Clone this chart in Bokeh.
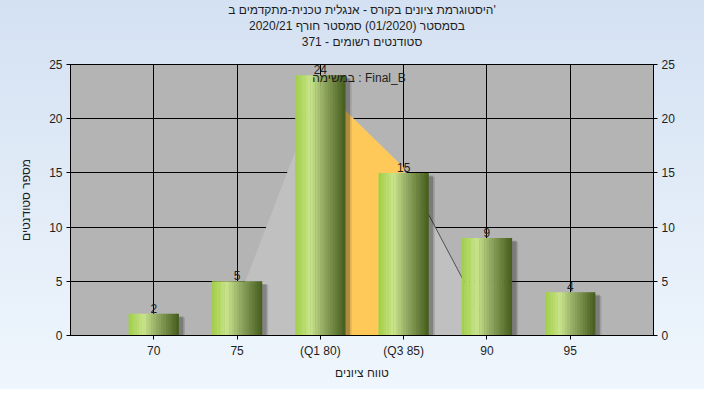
from bokeh.plotting import figure
from bokeh.models import LinearAxis, FixedTicker, Range1d, Label, ColumnDataSource, Title
from bokeh.core.properties import value
from bokeh.embed import file_html
from bokeh.resources import INLINE

# ---- data ----
grades = ["70", "75", "(Q1 80)", "(Q3 85)", "90", "95"]
counts = [2, 5, 24, 15, 9, 4]
# distribution area drawn behind the bars
area_grades = ["75", "(Q1 80)", "(Q3 85)", "90"]
area_values = [3, 23, 15.5, 1]
q_range = ["(Q1 80)", "(Q3 85)"]
y_ticks = [0, 5, 10, 15, 20, 25]

title_lines = [
    "היסטוגרמת ציונים בקורס - אנגלית טכנית-מתקדמים ב'",
    "בסמסטר  (01/2020)  סמסטר חורף  2020/21",
    "סטודנטים רשומים - 371",
]
task_label = "במשימה : Final_B"
x_title = "טווח ציונים"
y_title = "מספר סטודנטים"

FONT = "Liberation Sans"
TXT = "#1e1e1e"

pos = {g: i + 1 for i, g in enumerate(grades)}
xs = [pos[g] for g in grades]

p = figure(width=704, height=389, output_backend="svg", toolbar_location=None, title=None,
           x_range=Range1d(0, len(grades) + 1), y_range=Range1d(0, 25),
           min_border_left=70, min_border_right=51, min_border_top=64, min_border_bottom=54)
p.border_fill_alpha = 0
p.styles = {"background": "linear-gradient(to bottom, #d4e1f2, #eff6fd)"}
p.background_fill_color = "#b4b4b4"
p.outline_line_color = "black"

# title: spacer + three centred lines (added innermost first)
p.add_layout(Title(text=" ", text_font_size="12px", standoff=0), "above")
for line in reversed(title_lines):
    p.add_layout(Title(text=line, align="center", text_font=FONT, text_font_size="12px",
                       text_font_style="normal", text_color=TXT, text_line_height=0.95,
                       standoff=0, offset=-9), "above")

# axes
p.xaxis.ticker = FixedTicker(ticks=xs)
p.xaxis.major_label_overrides = {pos[g]: g for g in grades}
p.yaxis.ticker = FixedTicker(ticks=y_ticks)
right = LinearAxis(ticker=FixedTicker(ticks=y_ticks))
p.add_layout(right, "right")
for ax in [p.xaxis[0], p.yaxis[0], right]:
    ax.axis_line_color = "black"
    ax.major_tick_line_color = "black"
    ax.major_tick_out = 4
    ax.major_tick_in = 0
    ax.minor_tick_line_color = None
    ax.major_label_text_font = FONT
    ax.major_label_text_font_size = "12px"
    ax.major_label_text_color = TXT
    ax.major_label_standoff = 4
    ax.axis_label_text_font = FONT
    ax.axis_label_text_font_size = "12px"
    ax.axis_label_text_font_style = "normal"
    ax.axis_label_text_color = TXT
p.xaxis[0].axis_label = x_title
p.xaxis[0].axis_label_standoff = 5
p.yaxis[0].axis_label = y_title
p.yaxis[0].axis_label_standoff = 13

p.xgrid.ticker = FixedTicker(ticks=xs)
p.ygrid.ticker = FixedTicker(ticks=y_ticks)
for g in [p.xgrid[0], p.ygrid[0]]:
    g.grid_line_color = "black"
    g.grid_line_width = 1

# background area (distribution)
ax_ = [pos[g] for g in area_grades]
p.varea(x=ax_, y1=[0] * len(ax_), y2=area_values, fill_color="#c0c0c0")
qi = [area_grades.index(q) for q in q_range]
p.varea(x=ax_[qi[0]:qi[1] + 1], y1=[0] * (qi[1] - qi[0] + 1),
        y2=area_values[qi[0]:qi[1] + 1], fill_color="#ffc95a")
p.line(x=ax_[qi[1]:], y=area_values[qi[1]:], line_color="#505050", line_width=1)

# bar shadows
W = 0.6
p.vbar(x=[x + 0.075 for x in xs], top=[c - 0.35 for c in counts], bottom=-0.45, width=W,
       fill_color="black", fill_alpha=0.12, line_color=None)
p.vbar(x=[x + 0.055 for x in xs], top=[c - 0.25 for c in counts], bottom=-0.3, width=W,
       fill_color="black", fill_alpha=0.22, line_color=None)

# gradient bars made of thin vertical strips
stops = [(0.0, (160, 206, 68)), (0.3, (201, 229, 140)), (0.6, (140, 164, 92)), (1.0, (68, 92, 28))]


def grad(t):
    for (t0, c0), (t1, c1) in zip(stops[:-1], stops[1:]):
        if t0 <= t <= t1:
            f = (t - t0) / (t1 - t0)
            return "#%02x%02x%02x" % tuple(int(round(a + (b - a) * f)) for a, b in zip(c0, c1))
    return "#%02x%02x%02x" % stops[-1][1]


N = 20
sw = W / N
sx, st, sc = [], [], []
for x, c in zip(xs, counts):
    for k in range(N):
        t = (k + 0.5) / N
        sx.append(x - W / 2 + (k + 0.5) * sw)
        st.append(c)
        sc.append(grad(t))
p.vbar(x=sx, top=st, bottom=0, width=sw * 1.15, fill_color=sc, line_color=None)

# value labels
src = ColumnDataSource(dict(x=xs, y=counts, t=[str(c) for c in counts]))
p.text(x="x", y="y", text="t", source=src, text_align="center", text_baseline="bottom",
       y_offset=-1, text_font=value(FONT), text_font_size="12px", text_color=TXT)

p.add_layout(Label(x=pos["(Q3 85)"], y=23.8, x_offset=2, text=task_label, text_align="right",
                   text_baseline="middle", text_font=FONT, text_font_size="12px",
                   text_color=TXT))

open("out.html", "w").write(file_html(p, INLINE))
